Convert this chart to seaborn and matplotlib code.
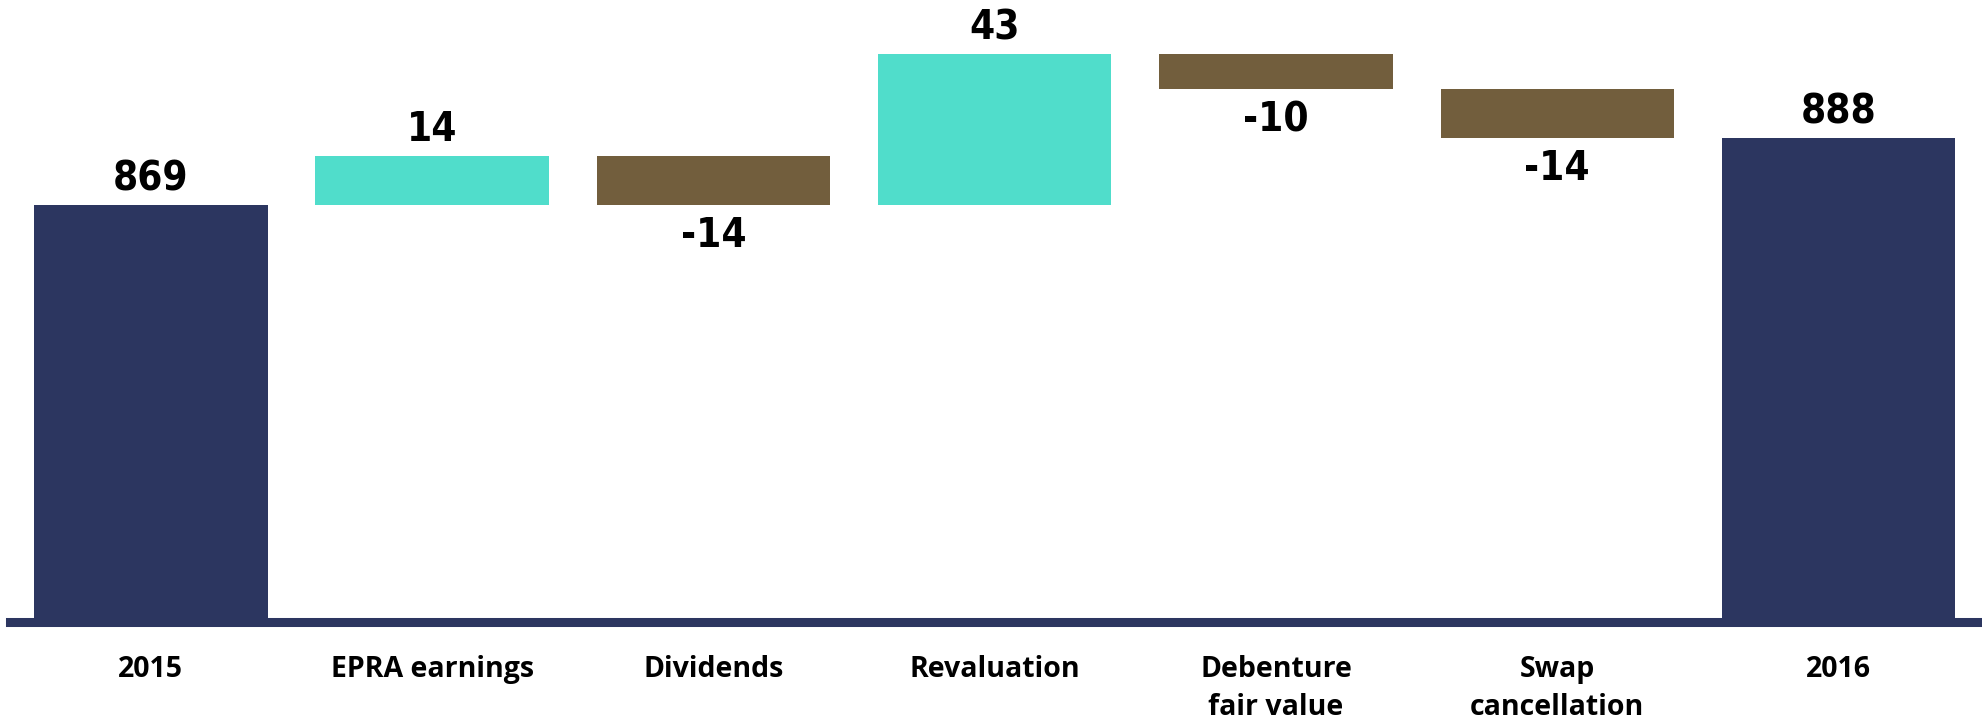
import matplotlib
matplotlib.use("Agg")
import matplotlib.pyplot as plt
import seaborn as sns
import numpy as np

# Bridge of net asset value from 2015 to 2016
categories = ["2015", "EPRA earnings", "Dividends", "Revaluation",
              "Debenture\nfair value", "Swap\ncancellation", "2016"]
changes = [869, 14, -14, 43, -10, -14, 888]
kinds = ["total", "step", "step", "step", "step", "step", "total"]

navy = "#2C3660"
teal = "#50DDCB"
brown = "#725E3D"
base_value = 750

# floating bar geometry for the waterfall
bottoms, heights, colors = [], [], []
running = 0
for v, k in zip(changes, kinds):
    if k == "total":
        bottoms.append(base_value)
        heights.append(v - base_value)
        colors.append(navy)
        running = v
    else:
        lo = running + min(v, 0)
        bottoms.append(lo)
        heights.append(abs(v))
        colors.append(teal if v > 0 else brown)
        running += v

sns.set_theme(style="white")
fig = plt.figure(figsize=(19.83, 7.23), dpi=100)
ax = fig.add_axes([0.0051, 0.1399, 0.993, 0.8601])

sns.barplot(x=categories, y=heights, bottom=bottoms, color=navy,
            width=0.83, errorbar=None, ax=ax, saturation=1)
for patch, c in zip(ax.patches, colors):
    patch.set_facecolor(c)
    patch.set_edgecolor("none")

ax.set_xlim(-0.5, 6.5)
ax.set_ylim(base_value, 927.4)

for i, (v, k, b, h) in enumerate(zip(changes, kinds, bottoms, heights)):
    above = k == "total" or v > 0
    ax.text(i, b + h + 1.6 if above else b - 3.2, f"{v}",
            ha="center", va="bottom" if above else "top",
            fontsize=29, fontweight="bold", family="DejaVu Sans",
            fontstretch="condensed", color="black", clip_on=False)

for side in ["top", "right", "left"]:
    ax.spines[side].set_visible(False)
ax.spines["bottom"].set_color(navy)
ax.spines["bottom"].set_linewidth(6.5)
ax.set_yticks([])
ax.set_ylabel("")
ax.tick_params(axis="x", length=0, pad=24)
for lbl in ax.get_xticklabels():
    lbl.set_fontfamily(["Open Sans", "DejaVu Sans"])
    lbl.set_fontweight("bold")
    lbl.set_fontsize(20.5)
    lbl.set_linespacing(1.42)
    lbl.set_color("black")

fig.savefig("out.png", dpi=100, facecolor="white")
